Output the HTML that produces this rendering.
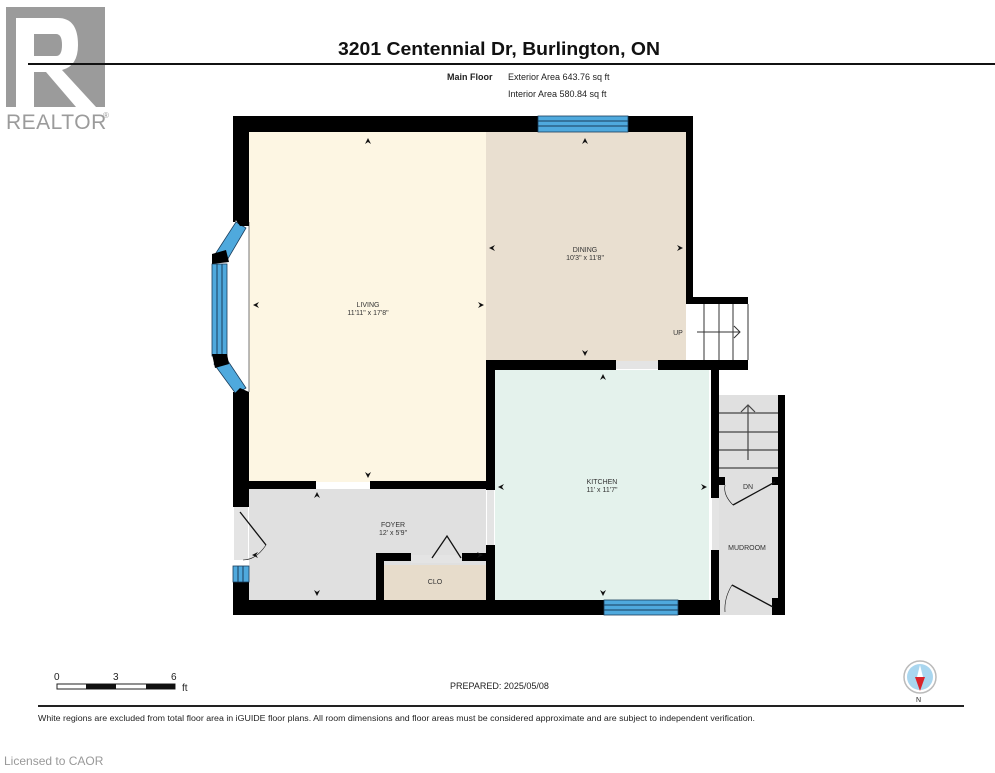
<!DOCTYPE html>
<html><head><style>
body{margin:0;background:#fff;width:995px;height:768px;overflow:hidden;font-family:"Liberation Sans",sans-serif;}
</style></head><body>
<svg width="995" height="768" viewBox="0 0 995 768" xmlns="http://www.w3.org/2000/svg" font-family="Liberation Sans, sans-serif">
<!-- Realtor logo -->
<rect x="6" y="7" width="99" height="100" fill="#9b9b9b"/>
<path d="M16 18 H58 Q78 18 78 45 Q78 66 62 70 L96 107 H76 L46 72 H34 V107 H16 Z" fill="#fff"/>
<path d="M34 34 H56 Q62 34 62 45 Q62 56 56 56 H34 Z" fill="#9b9b9b"/>
<text x="6" y="129" font-size="21" fill="#9b9b9b" letter-spacing="0.5">REALTOR</text>
<text x="103" y="118" font-size="8" fill="#9b9b9b">®</text>
<!-- header -->
<text x="338" y="55" font-size="18" font-weight="bold" fill="#111" textLength="322" lengthAdjust="spacingAndGlyphs">3201 Centennial Dr, Burlington, ON</text>
<rect x="28" y="63" width="967" height="2" fill="#111"/>
<text x="447" y="80" font-size="9" font-weight="bold" fill="#222">Main Floor</text>
<text x="508" y="80" font-size="9" fill="#222">Exterior Area 643.76 sq ft</text>
<text x="508" y="97" font-size="9" fill="#222">Interior Area 580.84 sq ft</text>

<!-- room fills -->
<rect x="249" y="132" width="237" height="350" fill="#fdf6e3"/>
<rect x="486" y="132" width="200" height="230" fill="#e9dfd0"/>
<rect x="495" y="370" width="214" height="230" fill="#e4f2ec"/>
<rect x="249" y="489" width="237" height="111" fill="#e0e0e0"/>
<rect x="384" y="565" width="102" height="35" fill="#e7dccb"/>
<rect x="719" y="395" width="59" height="220" fill="#e0e0e0"/>
<rect x="693" y="304" width="55" height="58" fill="#fff"/>

<!-- walls -->
<g fill="#000">
<rect x="233" y="116" width="460" height="16"/>
<rect x="686" y="116" width="7" height="188"/>
<rect x="686" y="297" width="62" height="7"/>
<rect x="686" y="360" width="62" height="10"/>
<rect x="486" y="360" width="130" height="10"/>
<rect x="658" y="360" width="60" height="10"/>
<rect x="486" y="360" width="9" height="130"/>
<rect x="486" y="545" width="9" height="60"/>
<rect x="711" y="370" width="8" height="128"/>
<rect x="711" y="550" width="8" height="60"/>
<rect x="778" y="395" width="7" height="220"/>
<rect x="233" y="600" width="487" height="15"/>
<rect x="233" y="116" width="16" height="106"/>
<rect x="233" y="392" width="16" height="115"/>
<rect x="233" y="582" width="16" height="33"/>
<rect x="233" y="481" width="83" height="8"/>
<rect x="370" y="481" width="125" height="8"/>
<rect x="376" y="553" width="8" height="50"/>
<rect x="376" y="553" width="35" height="8"/>
<rect x="462" y="553" width="33" height="8"/>
<rect x="719" y="477" width="6" height="8"/>
<rect x="772" y="477" width="8" height="8"/>
<rect x="772" y="598" width="8" height="17"/>
</g>
<rect x="616" y="361" width="42" height="8" fill="#e4e4e4"/>
<rect x="411" y="555" width="51" height="8" fill="#e4e4e4"/>
<rect x="487" y="490" width="7" height="55" fill="#e4e4e4"/>
<rect x="712" y="498" width="7" height="52" fill="#e4e4e4"/>
<rect x="234" y="507" width="14" height="53" fill="#e4e4e4"/>

<!-- windows -->
<g fill="#4fa9dd" stroke="#1a3d5c" stroke-width="0.8">
<rect x="538" y="116" width="90" height="16"/>
<rect x="604" y="600" width="74" height="15"/>
<rect x="233" y="566" width="16" height="16"/>
</g>
<g stroke="#1a3d5c" stroke-width="1">
<line x1="538" y1="121" x2="628" y2="121"/><line x1="538" y1="126" x2="628" y2="126"/>
<line x1="604" y1="605" x2="678" y2="605"/><line x1="604" y1="610" x2="678" y2="610"/>
<line x1="238" y1="566" x2="238" y2="582"/><line x1="243" y1="566" x2="243" y2="582"/>
</g>
<!-- bay -->
<polygon points="249,222 249,392 243,386 222,362 219,264 236,220" fill="#fff"/>
<line x1="249" y1="222" x2="249" y2="392" stroke="#777" stroke-width="1"/>
<g fill="#4fa9dd" stroke="#1a3d5c" stroke-width="0.8">
<polygon points="236,222 246,228 226,262 214,256"/>
<rect x="212" y="264" width="15" height="92"/>
<polygon points="214,364 226,358 246,388 236,394"/>
</g>
<g stroke="#1a3d5c"><line x1="217" y1="264" x2="217" y2="356"/><line x1="222" y1="264" x2="222" y2="356"/></g>
<g fill="#000">
<polygon points="212,254 226,250 229,262 212,264"/>
<polygon points="212,354 227,354 229,364 215,368"/>
<polygon points="233,216 249,216 249,226 240,226"/>
<polygon points="233,395 240,388 249,392 249,398 233,398"/>
</g>

<!-- stairs up -->
<g stroke="#333" stroke-width="1" fill="none">
<line x1="748" y1="304" x2="748" y2="360"/>
<line x1="704" y1="304" x2="704" y2="360"/><line x1="719" y1="304" x2="719" y2="360"/><line x1="733" y1="304" x2="733" y2="360"/>
<line x1="697" y1="332" x2="740" y2="332"/><polyline points="734,326 740,332 734,338"/>
</g>
<!-- stairs down -->
<g stroke="#444" stroke-width="1.2" fill="none">
<line x1="719" y1="413" x2="778" y2="413"/><line x1="719" y1="432" x2="778" y2="432"/><line x1="719" y1="450" x2="778" y2="450"/><line x1="719" y1="468" x2="778" y2="468"/>
<line x1="748" y1="460" x2="748" y2="406"/><polyline points="741,412 748,405 755,412"/>
</g>
<!-- doors -->
<g stroke="#111" stroke-width="1.3" fill="none">
<line x1="733" y1="505" x2="775" y2="482"/><path d="M733 505 Q723 495 725 485" stroke-width="0.6"/>
<line x1="732" y1="585" x2="773" y2="607"/><path d="M732 585 Q724 598 725 612" stroke-width="0.6"/>
<line x1="240" y1="512" x2="266" y2="545"/><path d="M266 545 Q256 560 243 560" stroke-width="0.6"/>
<polyline points="432,558 447,536 461,558"/>
</g>
<!-- arrow markers -->
<g fill="#111">
<path d="M368 138 l-3 6 l3-2 l3 2z"/><path d="M585 138 l-3 6 l3-2 l3 2z"/>
<path d="M368 478 l-3 -6 l3 2 l3 -2z"/><path d="M585 356 l-3 -6 l3 2 l3 -2z"/>
<path d="M253 305 l6 -3 l-2 3 l2 3z"/><path d="M484 305 l-6 -3 l2 3 l-2 3z"/>
<path d="M489 248 l6 -3 l-2 3 l2 3z"/><path d="M683 248 l-6 -3 l2 3 l-2 3z"/>
<path d="M603 374 l-3 6 l3-2 l3 2z"/><path d="M603 596 l-3 -6 l3 2 l3 -2z"/>
<path d="M498 487 l6 -3 l-2 3 l2 3z"/><path d="M707 487 l-6 -3 l2 3 l-2 3z"/>
<path d="M317 492 l-3 6 l3-2 l3 2z"/><path d="M317 596 l-3 -6 l3 2 l3 -2z"/>
<path d="M252 555 l6 -3 l-2 3 l2 3z"/><path d="M483 555 l-6 -3 l2 3 l-2 3z"/>
</g>
<!-- labels -->
<g font-size="7" fill="#333" text-anchor="middle">
<text x="368" y="307">LIVING</text><text x="368" y="315">11'11" x 17'8"</text>
<text x="585" y="252">DINING</text><text x="585" y="260">10'3" x 11'8"</text>
<text x="602" y="484">KITCHEN</text><text x="602" y="492">11' x 11'7"</text>
<text x="393" y="527">FOYER</text><text x="393" y="535">12' x 5'9"</text>
<text x="435" y="584">CLO</text>
<text x="678" y="335">UP</text>
<text x="748" y="489">DN</text>
<text x="747" y="550">MUDROOM</text>
</g>

<!-- scale bar -->
<g font-size="10" fill="#222">
<text x="54" y="680">0</text><text x="113" y="680">3</text><text x="171" y="680">6</text>
<text x="182" y="691">ft</text>
<text x="450" y="689" font-size="9">PREPARED: 2025/05/08</text>
</g>
<rect x="57" y="684" width="118" height="5" fill="#fff" stroke="#222" stroke-width="1"/>
<rect x="86" y="684" width="30" height="5" fill="#111"/><rect x="146" y="684" width="29" height="5" fill="#111"/>
<!-- compass -->
<circle cx="920" cy="677" r="16" fill="#fff" stroke="#bbb" stroke-width="1.5"/>
<circle cx="920" cy="677" r="13" fill="#a9d6ef"/>
<polygon points="920,665 917,677 923,677" fill="#fff"/>
<polygon points="915,677 925,677 920,691" fill="#d9232a"/>
<text x="916" y="702" font-size="7" fill="#222">N</text>
<rect x="38" y="705" width="926" height="2" fill="#222"/>
<text x="38" y="721" font-size="8" fill="#222" textLength="717" lengthAdjust="spacingAndGlyphs">White regions are excluded from total floor area in iGUIDE floor plans. All room dimensions and floor areas must be considered approximate and are subject to independent verification.</text>
<text x="4" y="765" font-size="12" fill="#999">Licensed to CAOR</text>
</svg>
</body></html>
